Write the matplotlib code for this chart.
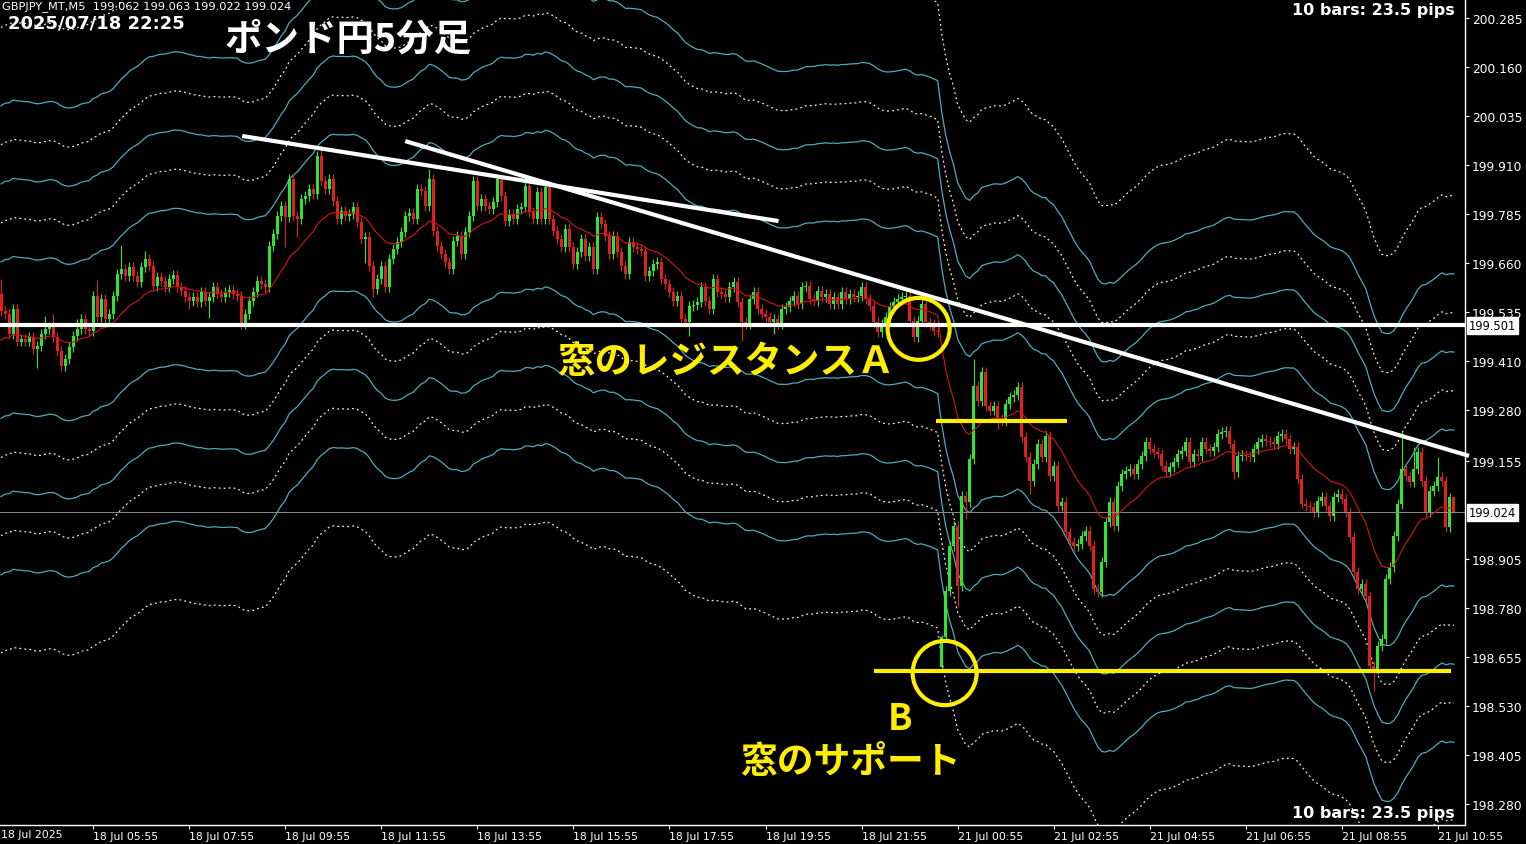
import numpy as np
import matplotlib
matplotlib.use('Agg')
import matplotlib.pyplot as plt
from matplotlib.patches import Ellipse

W, H = 1526, 845

# GBPJPY 5-minute closes, one per bar (bar 0 = 18 Jul 04:00)
closes = [
    199.538, 199.530, 199.479, 199.543, 199.459, 199.466, 199.459, 199.471, 199.441, 199.448, 199.479, 199.492,
    199.497, 199.471, 199.436, 199.397, 199.415, 199.446, 199.474, 199.492, 199.517, 199.492, 199.487, 199.576,
    199.522, 199.568, 199.517, 199.530, 199.576, 199.632, 199.645, 199.627, 199.650, 199.627, 199.612, 199.650,
    199.670, 199.652, 199.601, 199.624, 199.614, 199.599, 199.619, 199.629, 199.599, 199.589, 199.573, 199.563,
    199.573, 199.561, 199.586, 199.563, 199.573, 199.599, 199.581, 199.573, 199.586, 199.591, 199.581, 199.576,
    199.504, 199.530, 199.563, 199.586, 199.614, 199.606, 199.599, 199.703, 199.734, 199.780, 199.805, 199.777,
    199.874, 199.780, 199.772, 199.823, 199.831, 199.849, 199.836, 199.933, 199.869, 199.849, 199.874, 199.818,
    199.772, 199.793, 199.780, 199.785, 199.803, 199.765, 199.721, 199.726, 199.652, 199.594, 199.619, 199.652,
    199.599, 199.670, 199.696, 199.714, 199.739, 199.780, 199.788, 199.772, 199.849, 199.844, 199.805, 199.874,
    199.742, 199.703, 199.683, 199.663, 199.645, 199.716, 199.729, 199.683, 199.739, 199.780, 199.869, 199.805,
    199.823, 199.805, 199.798, 199.816, 199.874, 199.831, 199.767, 199.785, 199.772, 199.798, 199.803, 199.856,
    199.790, 199.772, 199.841, 199.772, 199.854, 199.772, 199.742, 199.721, 199.701, 199.747, 199.701, 199.657,
    199.688, 199.721, 199.678, 199.701, 199.645, 199.777, 199.760, 199.729, 199.683, 199.729, 199.688, 199.652,
    199.632, 199.714, 199.701, 199.696, 199.691, 199.627, 199.640, 199.657, 199.663, 199.619, 199.606, 199.586,
    199.563, 199.576, 199.517, 199.510, 199.550, 199.553, 199.561, 199.599, 199.563, 199.543, 199.619, 199.586,
    199.581, 199.573, 199.599, 199.612, 199.561, 199.510, 199.504, 199.568, 199.586, 199.543, 199.530, 199.522,
    199.510, 199.517, 199.504, 199.543, 199.548, 199.563, 199.576, 199.555, 199.599, 199.601, 199.568, 199.563,
    199.589, 199.573, 199.581, 199.555, 199.573, 199.555, 199.586, 199.568, 199.581, 199.573, 199.576, 199.599,
    199.568, 199.550, 199.510, 199.484, 199.504, 199.522, 199.548, 199.561, 199.568, 199.573, 199.576, 199.512,
    199.471, 199.512, 199.555, 199.510, 199.504, 199.487, 199.484,
    # Monday 21 Jul, gap down
    198.706, 198.823, 198.938, 198.989, 198.836, 199.066, 199.050, 199.160, 199.346, 199.308, 199.382, 199.295,
    199.283, 199.295, 199.262, 199.257, 199.300, 199.318, 199.323, 199.344, 199.216, 199.165, 199.104, 199.147,
    199.198, 199.165, 199.219, 199.117, 199.142, 199.040, 199.050, 198.974, 198.948, 198.938, 198.943, 198.964,
    198.976, 198.938, 198.828, 198.821, 198.897, 198.999, 199.050, 198.989, 199.091, 199.122, 199.129, 199.135,
    199.122, 199.147, 199.168, 199.203, 199.186, 199.178, 199.173, 199.142, 199.127, 199.140, 199.152, 199.173,
    199.180, 199.203, 199.152, 199.173, 199.168, 199.203, 199.186, 199.180, 199.191, 199.224, 199.229, 199.232,
    199.198, 199.127, 199.168, 199.170, 199.168, 199.165, 199.186, 199.203, 199.211, 199.206, 199.203, 199.198,
    199.219, 199.224, 199.211, 199.186, 199.191, 199.109, 199.045, 199.040, 199.038, 199.025, 199.053, 199.063,
    199.040, 199.015, 199.063, 199.071, 199.058, 199.025, 198.961, 198.872, 198.828, 198.841, 198.810, 198.632,
    198.624, 198.683, 198.701, 198.854, 198.885, 198.964, 199.045, 199.135, 199.117, 199.101, 199.135, 199.178,
    199.104, 199.025, 199.078, 199.091, 199.114, 199.104, 198.987, 199.062, 199.024,
]
# opens that are not the previous close (first bar, weekend gap, last bar)
open_fix = {0: 199.581, 235: 198.629, 363: 199.062}
# wick lengths beyond the body (yen): bar -> (upper, lower)
wick_default = 0.012
wicks = {0: (0.038, 0.012), 9: (0.012, 0.05), 11: (0.033, 0.012), 13: (0.033, 0.012),
         19: (0.025, 0.012), 24: (0.04, 0.012), 30: (0.06, 0.012), 36: (0.02, 0.012),
         47: (0.012, 0.02), 52: (0.012, 0.043), 71: (0.012, 0.075), 74: (0.012, 0.045),
         80: (0.025, 0.012), 91: (0.012, 0.06), 93: (0.012, 0.02), 107: (0.026, 0.012),
         172: (0.012, 0.035), 185: (0.012, 0.048), 193: (0.012, 0.03), 235: (0.005, 0.005),
         239: (0.012, 0.054), 241: (0.012, 0.043), 243: (0.07, 0.012), 249: (0.012, 0.026),
         257: (0.012, 0.033), 308: (0.012, 0.018), 343: (0.012, 0.056), 350: (0.094, 0.012),
         353: (0.056, 0.012), 359: (0.05, 0.012), 363: (0.001, 0.002)}

ma_span = 20
ma_start = 199.455          # MA value at the left edge of the chart
env_solid = [0.1, 0.2, 0.3]      # envelope deviations in %
env_dotted = [0.15, 0.25, 0.4]

price_ticks = [200.285, 200.160, 200.035, 199.910, 199.785, 199.660, 199.535, 199.410,
               199.285, 199.155, 198.905, 198.780, 198.655, 198.530, 198.405, 198.280]
price_labels = ['200.285', '200.160', '200.035', '199.910', '199.785', '199.660', '199.535', '199.410',
                '199.280', '199.155', '198.905', '198.780', '198.655', '198.530', '198.405', '198.280']
time_bars = [23, 47, 71, 95, 119, 143, 167, 191, 215, 239, 263, 287, 311, 335, 359]
time_labels = ['18 Jul 05:55', '18 Jul 07:55', '18 Jul 09:55', '18 Jul 11:55', '18 Jul 13:55',
               '18 Jul 15:55', '18 Jul 17:55', '18 Jul 19:55', '18 Jul 21:55', '21 Jul 00:55',
               '21 Jul 02:55', '21 Jul 04:55', '21 Jul 06:55', '21 Jul 08:55', '21 Jul 10:55']

# drawn objects (bar, price)
resist_level = 199.501
last_price = 199.024
trend_long = ([101.0, 366.75], [199.971, 199.168])
trend_short = ([60.25, 194.25], [199.984, 199.767])
gap_top_line = ([233.5, 266.25], 199.257)
support_line = ([218.0, 362.25], 198.619)
circle_a = (229.25, 199.492)
circle_b = (235.75, 198.614)

green, red = '#2ee62e', '#e02020'
cyan, dotc, yellow = '#50aab8', '#f5f0c8', '#ffee00'

fig = plt.figure(figsize=(W / 100, H / 100), dpi=100, facecolor='black')
ax = fig.add_axes([0, 19 / H, 1465 / W, 826 / H], facecolor='black')

x = np.arange(len(closes))
c = np.array(closes)
o = np.r_[c[0], c[:-1]]
for k, v in open_fix.items():
    o[k] = v
top = np.maximum(o, c)
bot = np.minimum(o, c)
up = np.full(len(c), wick_default)
dn = np.full(len(c), wick_default)
for k, (u, d) in wicks.items():
    up[k] = u
    dn[k] = d
col = np.where(c >= o, green, red)

# exponential moving average, started from the value seen at the left edge
alpha = 2 / (ma_span + 1)
ma = np.empty(len(c))
prev = ma_start
for i, v in enumerate(c):
    prev = prev + alpha * (v - prev)
    ma[i] = prev

# envelopes
for p in env_solid:
    for s in (1, -1):
        ax.plot(x, ma * (1 + s * p / 100), color=cyan, lw=0.9, zorder=1)
for p in env_dotted:
    for s in (1, -1):
        ax.plot(x, ma * (1 + s * p / 100), color=dotc, lw=0.9, ls=(0, (1.5, 2.5)), zorder=1)

# candles
ax.vlines(x, bot - dn, top + up, colors=col, lw=0.8, zorder=2)
ax.bar(x, np.maximum(top - bot, 0.0025), bottom=bot, width=0.75, color=col, lw=0, zorder=2)
ax.plot(x, ma, color='#d41414', lw=0.8, zorder=3)

# price lines
ax.axhline(last_price, color='#8c8c8c', lw=0.7, zorder=2.5)
ax.axhline(resist_level, color='white', lw=3, zorder=4)

# trendlines
ax.plot(*trend_long, color='white', lw=3, zorder=4, clip_on=False, solid_capstyle='butt')
ax.plot(*trend_short, color='white', lw=3, zorder=4, solid_capstyle='butt')

# yellow markup
ax.plot(gap_top_line[0], [gap_top_line[1]] * 2, color=yellow, lw=3, zorder=5, solid_capstyle='butt')
ax.plot(support_line[0], [support_line[1]] * 2, color=yellow, lw=3, zorder=5, solid_capstyle='butt')
ax.add_patch(Ellipse(circle_a, 15.5, 0.158, fill=False, ec=yellow, lw=3, zorder=5))
ax.add_patch(Ellipse(circle_b, 16.0, 0.164, fill=False, ec=yellow, lw=3, zorder=5))

ax.set_xlim(-0.25, 365.75)
ax.set_ylim(198.2263, 200.3335)

for s in ['top', 'left']:
    ax.spines[s].set_visible(False)
for s in ['right', 'bottom']:
    ax.spines[s].set_color('white')
    ax.spines[s].set_linewidth(1)

ax.yaxis.tick_right()
ax.set_yticks(price_ticks)
ax.set_yticklabels(price_labels)
ax.tick_params(axis='y', colors='white', labelsize=8.8, length=3, width=0.8, pad=2)
ax.set_xticks(time_bars)
ax.set_xticklabels(time_labels)
ax.tick_params(axis='x', colors='white', labelsize=7.8, length=3, width=0.8, pad=1)
for t in ax.get_xticklabels():
    t.set_ha('left')
ax.annotate('18 Jul 2025', xy=(0, 0), xycoords='axes fraction', xytext=(0.5, -3.2),
            textcoords='offset points', ha='left', va='top', color='white', fontsize=7.8,
            annotation_clip=False)

for val, txt in [(resist_level, '199.501'), (last_price, '199.024')]:
    ax.annotate(txt, xy=(1, val), xycoords=('axes fraction', 'data'), xytext=(3, 0),
                textcoords='offset points', ha='left', va='center', fontsize=8.3, color='black',
                bbox=dict(boxstyle='square,pad=0.15', fc='white', ec='white'), annotation_clip=False)


def fx(px):
    return px / W


def fy(py):
    return 1 - py / H


jp = ['Noto Sans CJK JP', 'DejaVu Sans']
fig.text(fx(2), fy(7), 'GBPJPY_MT,M5  199.062 199.063 199.022 199.024', color='white',
         fontsize=8.2, va='center', ha='left')
fig.text(fx(8), fy(23), '2025/07/18 22:25', color='white', fontsize=13, weight='bold',
         va='center', ha='left')
fig.text(fx(225), fy(39), 'ポンド円5分足', color='white', fontsize=27, weight='bold',
         family=jp, va='center', ha='left')
fig.text(fx(1455), fy(11), '10 bars: 23.5 pips', color='white', fontsize=11.5, weight='bold',
         va='center', ha='right')
fig.text(fx(1455), fy(814), '10 bars: 23.5 pips', color='white', fontsize=11.5, weight='bold',
         va='center', ha='right')

fig.text(fx(557), fy(362), '窓のレジスタンスＡ', color=yellow, fontsize=27, weight='bold',
         family=jp, va='center', ha='left')
fig.text(fx(900), fy(720), 'B', color=yellow, fontsize=26, weight='bold',
         family=jp, va='center', ha='center')
fig.text(fx(740), fy(763), '窓のサポート', color=yellow, fontsize=26.5, weight='bold',
         family=jp, va='center', ha='left')

fig.savefig('out.png', dpi=100, facecolor='black')
